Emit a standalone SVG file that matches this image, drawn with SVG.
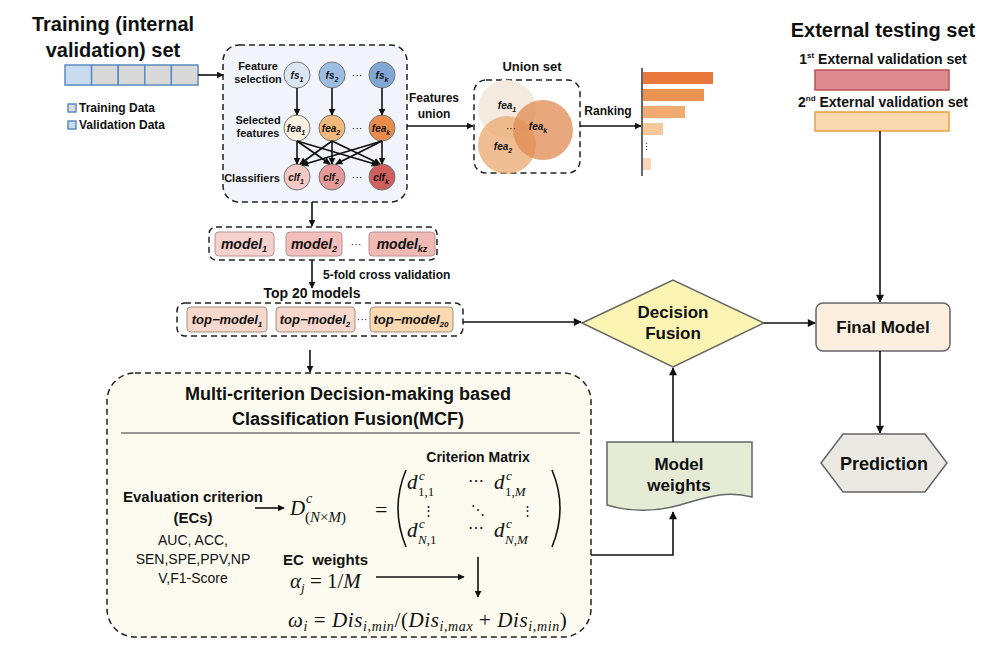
<svg xmlns="http://www.w3.org/2000/svg" width="999" height="661" viewBox="0 0 999 661">
<style>
.t{font-family:"Liberation Sans",Arial,sans-serif;fill:#111}
.b{font-weight:bold}
.i{font-style:italic;font-weight:bold}
.m{font-family:"Liberation Serif","DejaVu Serif",serif;font-style:italic;fill:#111}
.mr{font-family:"Liberation Serif","DejaVu Serif",serif;font-style:normal;fill:#111}
.c{fill:none;stroke:#111;stroke-width:1.6}
.dash{stroke:#222;stroke-width:1.5;stroke-dasharray:6 4}
.nd{stroke:#777;stroke-width:1}
</style>
<defs>
<marker id="ah" viewBox="0 0 10 10" refX="9" refY="5" markerWidth="9" markerHeight="8" orient="auto" markerUnits="userSpaceOnUse"><path d="M0,0 L10,5 L0,10 z" fill="#111"/></marker>
<marker id="ahs" viewBox="0 0 10 10" refX="9" refY="5" markerWidth="7" markerHeight="7" orient="auto" markerUnits="userSpaceOnUse"><path d="M0,0 L10,5 L0,10 z" fill="#111"/></marker>
</defs>
<rect width="999" height="661" fill="#fff"/>

<g id="training">
<text class="t b" x="113" y="31" font-size="20" text-anchor="middle">Training (internal</text>
<text class="t b" x="113" y="57" font-size="20" text-anchor="middle">validation) set</text>
<rect x="65" y="65" width="26.6" height="20" fill="#c9dcef" stroke="#5b8cc0" stroke-width="1.5"/>
<rect x="91.6" y="65" width="26.6" height="20" fill="#d9d9d9" stroke="#5b8cc0" stroke-width="1.5"/>
<rect x="118.2" y="65" width="26.6" height="20" fill="#d9d9d9" stroke="#5b8cc0" stroke-width="1.5"/>
<rect x="144.8" y="65" width="26.6" height="20" fill="#d9d9d9" stroke="#5b8cc0" stroke-width="1.5"/>
<rect x="171.4" y="65" width="26.6" height="20" fill="#d9d9d9" stroke="#5b8cc0" stroke-width="1.5"/>
<rect x="68" y="104" width="8" height="8" fill="#d9d9d9" stroke="#5b8cc0" stroke-width="1.5"/>
<text class="t b" x="79" y="112" font-size="12">Training Data</text>
<rect x="68" y="121" width="8" height="8" fill="#c9dcef" stroke="#5b8cc0" stroke-width="1.5"/>
<text class="t b" x="79" y="129" font-size="12">Validation Data</text>
</g>

<g id="feature-box">
<rect x="223" y="45" width="184" height="157" rx="16" fill="#f1f5fb" class="dash"/>
<text class="t b" x="258" y="70" font-size="11" text-anchor="middle">Feature</text>
<text class="t b" x="258" y="83" font-size="11" text-anchor="middle">selection</text>
<text class="t b" x="258" y="124" font-size="11" text-anchor="middle">Selected</text>
<text class="t b" x="258" y="137" font-size="11" text-anchor="middle">features</text>
<text class="t b" x="252" y="182" font-size="11" text-anchor="middle">Classifiers</text>
<circle cx="297" cy="75" r="13" fill="#dbe6f3" class="nd"/>
<circle cx="332" cy="75" r="13" fill="#9dbde3" class="nd"/>
<circle cx="382" cy="75" r="13" fill="#80a7d6" class="nd"/>
<circle cx="297" cy="128" r="13" fill="#fcf0e0" class="nd"/>
<circle cx="332" cy="128" r="13" fill="#f2b77a" class="nd"/>
<circle cx="382" cy="128" r="13" fill="#e98b4b" class="nd"/>
<circle cx="297" cy="177" r="13" fill="#f3c9c7" class="nd"/>
<circle cx="332" cy="177" r="13" fill="#e39a98" class="nd"/>
<circle cx="382" cy="177" r="13" fill="#cf5f5d" class="nd"/>
<text class="t i" font-size="10" x="297" y="79" text-anchor="middle" font-weight="normal">fs<tspan font-size="7" dy="3">1</tspan></text>
<text class="t i" font-size="10" x="332" y="79" text-anchor="middle" font-weight="normal">fs<tspan font-size="7" dy="3">2</tspan></text>
<text class="t i" font-size="10" x="382" y="79" text-anchor="middle" font-weight="normal">fs<tspan font-size="7" dy="3">k</tspan></text>
<text class="t i" font-size="10" x="296" y="132" text-anchor="middle">fea<tspan font-size="7" dy="3">1</tspan></text>
<text class="t i" font-size="10" x="331" y="132" text-anchor="middle">fea<tspan font-size="7" dy="3">2</tspan></text>
<text class="t i" font-size="10" x="381" y="132" text-anchor="middle">fea<tspan font-size="7" dy="3">k</tspan></text>
<text class="t i" font-size="10" x="296" y="181" text-anchor="middle">clf<tspan font-size="7" dy="3">1</tspan></text>
<text class="t i" font-size="10" x="331" y="181" text-anchor="middle">clf<tspan font-size="7" dy="3">2</tspan></text>
<text class="t i" font-size="10" x="381" y="181" text-anchor="middle">clf<tspan font-size="7" dy="3">k</tspan></text>
<text class="t" font-size="11" x="357" y="79" text-anchor="middle">···</text>
<text class="t" font-size="11" x="357" y="132" text-anchor="middle">···</text>
<text class="t" font-size="11" x="357" y="181" text-anchor="middle">···</text>
</g>

<g id="union-set">
<text class="t b" x="532" y="71" font-size="13" text-anchor="middle">Union set</text>
<rect x="474" y="80" width="106" height="93" rx="12" fill="#fff" class="dash"/>
<circle cx="507" cy="109" r="29" fill="#f3e8dc" opacity="0.9"/>
<circle cx="507" cy="145" r="29" fill="#eaa96f" opacity="0.75"/>
<circle cx="543" cy="130" r="30" fill="#e08a50" opacity="0.75"/>
<text class="t i" font-size="10" x="507" y="109" text-anchor="middle" font-weight="normal">fea<tspan font-size="7" dy="3">1</tspan></text>
<text class="t i" font-size="10" x="503" y="150" text-anchor="middle" font-weight="normal">fea<tspan font-size="7" dy="3">2</tspan></text>
<text class="t i" font-size="10" x="538" y="130" text-anchor="middle" font-weight="normal">fea<tspan font-size="7" dy="3">k</tspan></text>
<text class="t" font-size="10" x="511" y="132" text-anchor="middle">···</text>
</g>

<g id="ranking">
<line x1="642" y1="68" x2="642" y2="176" stroke="#333" stroke-width="1.5"/>
<rect x="643" y="72" width="70" height="12" fill="#e8783c"/>
<rect x="643" y="89" width="61" height="12" fill="#eb9352"/>
<rect x="643" y="106" width="42" height="12" fill="#f0ac70"/>
<rect x="643" y="123" width="20" height="12" fill="#f6c899"/>
<text class="t" font-size="9" x="646" y="150" text-anchor="middle">⋮</text>
<rect x="643" y="158" width="8" height="12" fill="#f8d8b8"/>
</g>

<g id="external">
<text class="t b" x="883" y="37" font-size="20" text-anchor="middle">External testing set</text>
<text class="t b" x="883" y="64" font-size="14" text-anchor="middle">1<tspan font-size="8" dy="-6">st</tspan><tspan dy="6"> External validation set</tspan></text>
<rect x="815" y="70" width="134" height="20" fill="#dc8c8e" stroke="#c0504d" stroke-width="1.5"/>
<text class="t b" x="883" y="107" font-size="14" text-anchor="middle">2<tspan font-size="8" dy="-6">nd</tspan><tspan dy="6"> External validation set</tspan></text>
<rect x="815" y="112" width="134" height="19" fill="#fad9b0" stroke="#e6a040" stroke-width="1.5"/>
</g>

<g id="models">
<rect x="209" y="227" width="228" height="33" rx="7" fill="#fff" class="dash"/>
<rect x="215" y="232" width="59" height="24" rx="4" fill="#f6d2cf" stroke="#b89090"/>
<rect x="286" y="232" width="56" height="24" rx="4" fill="#f2bfbd" stroke="#b89090"/>
<rect x="369" y="232" width="66" height="24" rx="4" fill="#efb9b4" stroke="#b89090"/>
<text class="t i" font-size="14" x="244" y="249" text-anchor="middle">model<tspan font-size="9" dy="3">1</tspan></text>
<text class="t i" font-size="14" x="314" y="249" text-anchor="middle">model<tspan font-size="9" dy="3">2</tspan></text>
<text class="t i" font-size="14" x="402" y="249" text-anchor="middle">model<tspan font-size="9" dy="3">kz</tspan></text>
<text class="t" font-size="11" x="356" y="248" text-anchor="middle">···</text>
</g>

<g id="top-models">
<text class="t b" x="312" y="298" font-size="14" text-anchor="middle">Top 20 models</text>
<rect x="177" y="303" width="286" height="33" rx="8" fill="#fff" class="dash"/>
<rect x="187" y="307" width="80" height="25" rx="4" fill="#f8d8cc" stroke="#a09080"/>
<rect x="276" y="307" width="79" height="25" rx="4" fill="#f8d8cc" stroke="#a09080"/>
<rect x="370" y="307" width="83" height="25" rx="4" fill="#fad8b0" stroke="#a09080"/>
<text class="t i" font-size="13" x="227" y="324" text-anchor="middle">top−model<tspan font-size="8" dy="3">1</tspan></text>
<text class="t i" font-size="13" x="315" y="324" text-anchor="middle">top−model<tspan font-size="8" dy="3">2</tspan></text>
<text class="t i" font-size="13" x="411" y="324" text-anchor="middle">top−model<tspan font-size="8" dy="3">20</tspan></text>
<text class="t" font-size="11" x="362" y="323" text-anchor="middle">···</text>
</g>

<g id="mcf">
<rect x="107" y="373" width="484" height="264" rx="28" fill="#fdfbef" class="dash"/>
<text class="t b" x="348" y="400" font-size="18" text-anchor="middle">Multi-criterion Decision-making based</text>
<text class="t b" x="348" y="425" font-size="18" text-anchor="middle">Classification Fusion(MCF)</text>
<line x1="121" y1="433" x2="580" y2="433" stroke="#777" stroke-width="1.5"/>
<text class="t b" x="193" y="502" font-size="15" text-anchor="middle">Evaluation criterion</text>
<text class="t b" x="193" y="523" font-size="15" text-anchor="middle">(ECs)</text>
<text class="t" x="193" y="545" font-size="14" text-anchor="middle">AUC, ACC,</text>
<text class="t" x="193" y="564" font-size="14" text-anchor="middle">SEN,SPE,PPV,NP</text>
<text class="t" x="193" y="583" font-size="14" text-anchor="middle">V,F1-Score</text>
<text class="t b" x="478" y="462" font-size="14" text-anchor="middle">Criterion Matrix</text>
<text class="m" x="290" y="515" font-size="21">D</text>
<text class="m" x="306" y="503" font-size="14">c</text>
<text class="m" x="305" y="522" font-size="15"><tspan class="mr">(</tspan>N<tspan class="mr">×</tspan>M<tspan class="mr">)</tspan></text>
<text class="mr" x="375" y="517" font-size="22">=</text>
<path d="M406,470 Q390,508 406,547" fill="none" stroke="#111" stroke-width="1.6"/>
<path d="M552,470 Q568,508 552,547" fill="none" stroke="#111" stroke-width="1.6"/>
<text class="m" x="407" y="489" font-size="21">d</text><text class="m" x="419" y="480" font-size="13">c</text><text class="mr" x="418" y="496" font-size="13">1,1</text>
<text class="m" x="494" y="489" font-size="21">d</text><text class="m" x="506" y="480" font-size="13">c</text><text class="m" x="505" y="496" font-size="13"><tspan class="mr">1,</tspan>M</text>
<text class="mr" x="476" y="486" font-size="16" text-anchor="middle">⋯</text>
<text class="mr" x="428" y="515" font-size="13" text-anchor="middle">⋮</text>
<text class="mr" x="478" y="515" font-size="14" text-anchor="middle">⋱</text>
<text class="mr" x="527" y="515" font-size="13" text-anchor="middle">⋮</text>
<text class="m" x="407" y="537" font-size="21">d</text><text class="m" x="419" y="528" font-size="13">c</text><text class="m" x="418" y="544" font-size="13">N<tspan class="mr">,1</tspan></text>
<text class="mr" x="476" y="533" font-size="16" text-anchor="middle">⋯</text>
<text class="m" x="494" y="537" font-size="21">d</text><text class="m" x="506" y="528" font-size="13">c</text><text class="m" x="505" y="544" font-size="13">N<tspan class="mr">,</tspan>M</text>
<text class="t b" x="283" y="565" font-size="15" xml:space="preserve">EC  weights</text>
<text class="m" x="290" y="588" font-size="21">α<tspan font-size="13" dy="4">j</tspan><tspan class="mr" dy="-4"> = 1/</tspan>M</text>
<text class="m" x="288" y="627" font-size="21" letter-spacing="0.6">ω<tspan font-size="14" dy="4">i</tspan><tspan class="mr" dy="-4"> = </tspan>Dis<tspan font-size="14" dy="4">i,min</tspan><tspan class="mr" dy="-4">/(</tspan>Dis<tspan font-size="14" dy="4">i,max</tspan><tspan class="mr" dy="-4"> + </tspan>Dis<tspan font-size="14" dy="4">i,min</tspan><tspan class="mr" dy="-4">)</tspan></text>
</g>

<g id="decision-fusion">
<polygon points="582,323 673,280 764,323 673,367" fill="#fbf4b2" stroke="#666" stroke-width="1.5"/>
<text class="t b" x="673" y="318" font-size="17" text-anchor="middle">Decision</text>
<text class="t b" x="673" y="339" font-size="17" text-anchor="middle">Fusion</text>
</g>

<g id="model-weights">
<path d="M607,442 L752,442 L752,497 C725,490 705,498 680,505 C655,512 630,512 607,505 Z" fill="#e6ebd5" stroke="#666" stroke-width="1.5"/>
<text class="t b" x="679" y="470" font-size="17" text-anchor="middle">Model</text>
<text class="t b" x="679" y="491" font-size="17" text-anchor="middle">weights</text>
</g>

<g id="final-model">
<rect x="816" y="303" width="134" height="48" rx="7" fill="#fcefe0" stroke="#666" stroke-width="1.5"/>
<text class="t b" x="883" y="333" font-size="17" text-anchor="middle">Final Model</text>
</g>

<g id="prediction">
<polygon points="821,463 843,434 925,434 947,463 925,492 843,492" fill="#ebe9e3" stroke="#666" stroke-width="1.5"/>
<text class="t b" x="884" y="470" font-size="18" text-anchor="middle">Prediction</text>
</g>

<g id="connectors">
<line x1="198" y1="75" x2="223" y2="75" class="c" marker-end="url(#ahs)"/>
<line x1="297" y1="88" x2="297" y2="115" class="c" marker-end="url(#ahs)"/>
<line x1="332" y1="88" x2="332" y2="115" class="c" marker-end="url(#ahs)"/>
<line x1="382" y1="88" x2="382" y2="115" class="c" marker-end="url(#ahs)"/>
<line x1="297" y1="141" x2="297" y2="164" class="c" marker-end="url(#ahs)"/>
<line x1="297" y1="141" x2="330" y2="164" class="c" marker-end="url(#ahs)"/>
<line x1="297" y1="141" x2="378" y2="165" class="c" marker-end="url(#ahs)"/>
<line x1="332" y1="141" x2="300" y2="164" class="c" marker-end="url(#ahs)"/>
<line x1="332" y1="141" x2="332" y2="164" class="c" marker-end="url(#ahs)"/>
<line x1="332" y1="141" x2="380" y2="164" class="c" marker-end="url(#ahs)"/>
<line x1="382" y1="141" x2="302" y2="165" class="c" marker-end="url(#ahs)"/>
<line x1="382" y1="141" x2="336" y2="164" class="c" marker-end="url(#ahs)"/>
<line x1="382" y1="141" x2="382" y2="164" class="c" marker-end="url(#ahs)"/>
<text class="t b" x="434" y="102" font-size="12" text-anchor="middle">Features</text>
<text class="t b" x="434" y="118" font-size="12" text-anchor="middle">union</text>
<line x1="407" y1="126" x2="473" y2="126" class="c" marker-end="url(#ahs)"/>
<text class="t b" x="608" y="115" font-size="12" text-anchor="middle">Ranking</text>
<line x1="580" y1="126" x2="641" y2="126" class="c" marker-end="url(#ahs)"/>
<line x1="312" y1="202" x2="312" y2="226" class="c" marker-end="url(#ahs)"/>
<line x1="312" y1="260" x2="312" y2="288" class="c" marker-end="url(#ahs)"/>
<text class="t b" x="323" y="279" font-size="12">5-fold cross validation</text>
<line x1="310" y1="350" x2="310" y2="372" class="c" marker-end="url(#ahs)"/>
<line x1="463" y1="322" x2="581" y2="322" class="c" marker-end="url(#ah)"/>
<line x1="764" y1="323" x2="815" y2="323" class="c" marker-end="url(#ah)"/>
<line x1="880" y1="131" x2="880" y2="302" class="c" marker-end="url(#ah)"/>
<line x1="880" y1="351" x2="880" y2="433" class="c" marker-end="url(#ah)"/>
<line x1="673" y1="442" x2="673" y2="368" class="c" marker-end="url(#ah)"/>
<polyline points="591,555 673,555 673,512" class="c" marker-end="url(#ah)" stroke-width="2.2"/>
<line x1="376" y1="577" x2="464" y2="577" class="c" marker-end="url(#ahs)"/>
<line x1="478" y1="557" x2="478" y2="597" class="c" marker-end="url(#ahs)"/>
<line x1="255" y1="508" x2="284" y2="508" class="c" marker-end="url(#ahs)"/>
</g>
</svg>
